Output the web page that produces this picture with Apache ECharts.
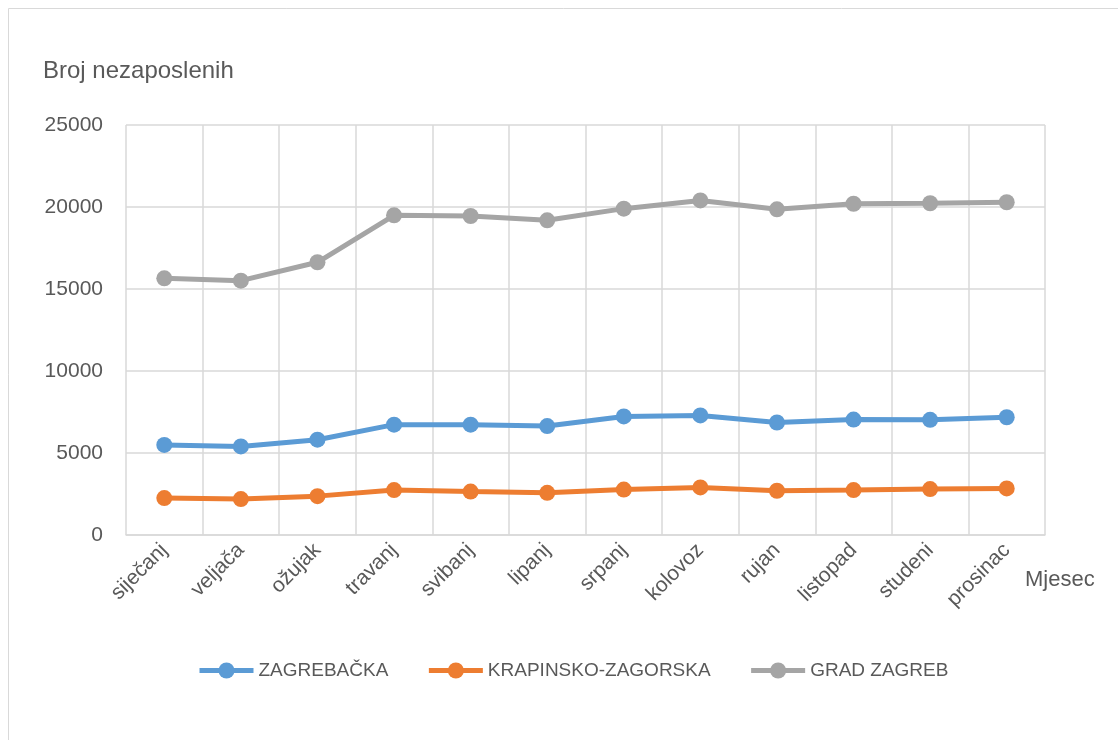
<!DOCTYPE html>
<html>
<head>
<meta charset="utf-8">
<script src="https://cdn.jsdelivr.net/npm/echarts@6/dist/echarts.min.js"></script>
<style>html,body{margin:0;padding:0;background:#fff}#c{width:1118px;height:740px}</style>
</head>
<body>
<div id="c"></div>
<script>
const months = ['siječanj','veljača','ožujak','travanj','svibanj','lipanj','srpanj','kolovoz','rujan','listopad','studeni','prosinac'];
const zagrebacka = [5490, 5400, 5810, 6730, 6730, 6640, 7230, 7290, 6860, 7040, 7020, 7180];
const krapinsko = [2250, 2190, 2370, 2740, 2650, 2570, 2770, 2900, 2700, 2740, 2800, 2840];
const gradZagreb = [15650, 15510, 16630, 19490, 19450, 19190, 19900, 20400, 19860, 20200, 20230, 20290];
const seriesNames = ['ZAGREBAČKA', 'KRAPINSKO-ZAGORSKA', 'GRAD ZAGREB'];
const yTicks = [0, 5000, 10000, 15000, 20000, 25000];

const FONT = 'Liberation Sans';
const TXT = '#595959';
const GRID = '#d9d9d9';
const colors = ['#5B9BD5', '#ED7D31', '#A5A5A5'];
const seriesData = [zagrebacka, krapinsko, gradZagreb];

const chart = echarts.init(document.getElementById('c'), null, {renderer: 'canvas'});
chart.setOption({
  animation: false,
  textStyle: {fontFamily: FONT},
  grid: {left: 126, right: 73, top: 125, bottom: 205, containLabel: false},
  graphic: [
    {type: 'rect', shape: {x: 8.5, y: 8.5, width: 1200, height: 800}, style: {fill: 'none', stroke: GRID, lineWidth: 1}, silent: true},
    {type: 'text', left: 43, top: 59, style: {text: 'Broj nezaposlenih', fill: TXT, font: '24px "' + FONT + '"'}},
    {type: 'text', left: 1025, top: 569, style: {text: 'Mjesec', fill: TXT, font: '22px "' + FONT + '"'}}
  ],
  legend: {
    bottom: 55,
    left: 192,
    itemWidth: 54,
    itemHeight: 20,
    itemGap: 38,
    lineStyle: {width: 5},
    textStyle: {color: TXT, fontSize: 19, fontFamily: FONT},
    data: seriesNames
  },
  xAxis: {
    type: 'category',
    data: months,
    boundaryGap: true,
    axisLine: {show: true, lineStyle: {color: GRID, width: 1.5}},
    axisTick: {show: false},
    splitLine: {show: true, lineStyle: {color: GRID, width: 1.5}},
    axisLabel: {rotate: 45, color: TXT, fontSize: 21, margin: 12, interval: 0}
  },
  yAxis: {
    type: 'value',
    min: yTicks[0],
    max: yTicks[yTicks.length - 1],
    interval: yTicks[1] - yTicks[0],
    axisLine: {show: false},
    axisTick: {show: false},
    splitLine: {show: true, lineStyle: {color: GRID, width: 1.5}},
    axisLabel: {color: TXT, fontSize: 21, margin: 23, formatter: v => String(v)}
  },
  series: seriesNames.map((n, i) => ({
    name: n,
    type: 'line',
    data: seriesData[i],
    color: colors[i],
    symbol: 'circle',
    symbolSize: 16,
    lineStyle: {width: 5, color: colors[i]},
    itemStyle: {color: colors[i]}
  }))
});
</script>
</body>
</html>
